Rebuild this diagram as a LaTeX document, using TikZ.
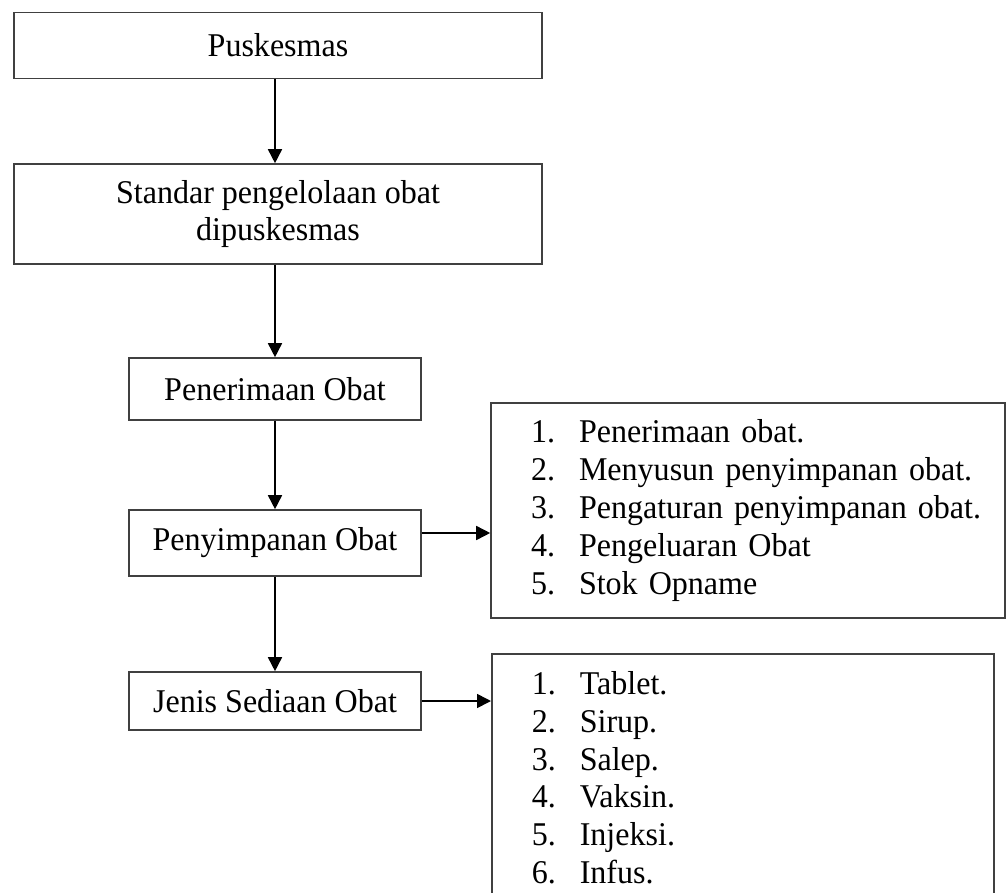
\documentclass[tikz,border=0pt]{standalone}
\usepackage{fontspec}
\setmainfont[FakeStretch=0.965]{Liberation Serif}
\usetikzlibrary{arrows.meta}

\newcommand{\numitem}[2]{\mbox{\makebox[24pt][l]{#1}#2}}

\tikzset{
    box/.style={draw=black!75, line width=0.8pt, inner sep=0pt, align=center,
        font=\fontsize{16.6}{18.9}\selectfont},
    listbox/.style={box, align=left, inner xsep=20pt},
    arr/.style={-{Triangle[length=7pt,width=7pt]}, line width=0.8pt}
}

\begin{document}
\begin{tikzpicture}[x=0.5pt, y=-0.5pt]
        \useasboundingbox (0,0) rectangle (1006,893);
        \clip (0,0) rectangle (1006,893);

        % Main column
        \node[box, minimum width=264pt, minimum height=33pt] (pusk) at (278,45.5) {Puskesmas};
        \node[box, minimum width=264pt, minimum height=50pt] (standar) at (278,214)
            {Standar pengelolaan obat\\dipuskesmas};
        \node[box, minimum width=146pt, minimum height=31pt] (pener) at (275,389) {Penerimaan Obat};
        \node[box, minimum width=146pt, minimum height=33pt] (penyim) at (275,543) {Penyimpanan Obat};
        \node[box, minimum width=146pt, minimum height=29pt] (jenis) at (275,701) {Jenis Sediaan Obat};

        % Lists
        \node[listbox, text width=217pt, minimum width=257pt, minimum height=107.5pt] (list1) at (748,510.5)
            {\numitem{1.}{Penerimaan obat.}\\
             \numitem{2.}{Menyusun penyimpanan obat.}\\
             \numitem{3.}{Pengaturan penyimpanan obat.}\\
             \numitem{4.}{Pengeluaran Obat}\\
             \numitem{5.}{Stok Opname}};
        \node[listbox, anchor=north west, text width=211pt, minimum width=251pt, minimum height=124pt] (list2) at (491,653)
            {\numitem{1.}{Tablet.}\\
             \numitem{2.}{Sirup.}\\
             \numitem{3.}{Salep.}\\
             \numitem{4.}{Vaksin.}\\
             \numitem{5.}{Injeksi.}\\
             \numitem{6.}{Infus.}};

        % Arrows
        \draw[arr] (pusk.south -| pener.north) -- (standar.north -| pener.north);
        \draw[arr] (standar.south -| pener.north) -- (pener.north);
        \draw[arr] (pener) -- (penyim);
        \draw[arr] (penyim) -- (jenis);
        \draw[arr] ([yshift=5pt]penyim.east) -- ([yshift=5pt]penyim.east -| list1.west);
        \draw[arr] (jenis.east) -- (jenis.east -| list2.west);
\end{tikzpicture}
\end{document}
